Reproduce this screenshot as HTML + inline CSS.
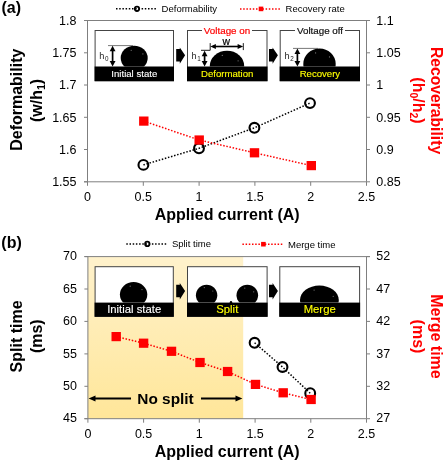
<!DOCTYPE html><html><head><meta charset="utf-8"><style>html,body{margin:0;padding:0;background:#fff;width:445px;height:461px;overflow:hidden}svg{display:block;filter:blur(0.3px)}text{font-family:"Liberation Sans", sans-serif}</style></head><body>
<svg width="445" height="461" viewBox="0 0 445 461">
<defs><linearGradient id="shade" x1="0" y1="0" x2="0" y2="1"><stop offset="0" stop-color="#fff2cc"/><stop offset="1" stop-color="#ffe699"/></linearGradient></defs>
<rect width="445" height="461" fill="#fff"/>
<g stroke="#7f7f7f" stroke-width="1" fill="none">
<path d="M84.0 20.5H370.0M87.5 20.5V181.8M366.5 20.5V181.8M84.0 181.8H366.5"/>
<path d="M84.0 20.5H87.5M366.5 20.5H370.0"/>
<path d="M87.5 181.8V185.8"/>
<path d="M84.0 52.8H87.5M366.5 52.8H370.0"/>
<path d="M143.3 181.8V185.8"/>
<path d="M84.0 85.0H87.5M366.5 85.0H370.0"/>
<path d="M199.1 181.8V185.8"/>
<path d="M84.0 117.3H87.5M366.5 117.3H370.0"/>
<path d="M254.9 181.8V185.8"/>
<path d="M84.0 149.5H87.5M366.5 149.5H370.0"/>
<path d="M310.7 181.8V185.8"/>
<path d="M84.0 181.8H87.5M366.5 181.8H370.0"/>
<path d="M366.5 181.8V185.8"/>
</g>
<g font-size="12.5" fill="#000">
<text x="76.5" y="24.8" text-anchor="end">1.8</text>
<text x="76.5" y="57.1" text-anchor="end">1.75</text>
<text x="76.5" y="89.3" text-anchor="end">1.7</text>
<text x="76.5" y="121.6" text-anchor="end">1.65</text>
<text x="76.5" y="153.8" text-anchor="end">1.6</text>
<text x="76.5" y="186.1" text-anchor="end">1.55</text>
<text x="376.3" y="24.8">1.1</text>
<text x="376.3" y="57.1">1.05</text>
<text x="376.3" y="89.3">1</text>
<text x="376.3" y="121.6">0.95</text>
<text x="376.3" y="153.8">0.9</text>
<text x="376.3" y="186.1">0.85</text>
<text x="87.5" y="201.3" text-anchor="middle">0</text>
<text x="143.3" y="201.3" text-anchor="middle">0.5</text>
<text x="199.1" y="201.3" text-anchor="middle">1</text>
<text x="254.9" y="201.3" text-anchor="middle">1.5</text>
<text x="310.7" y="201.3" text-anchor="middle">2</text>
<text x="366.5" y="201.3" text-anchor="middle">2.5</text>
</g>
<text x="1.5" y="12.6" font-size="16" font-weight="bold">(a)</text>
<line x1="116.0" y1="8.8" x2="156.0" y2="8.8" stroke="#000" stroke-width="1.5" stroke-dasharray="1.5 1.7"/>
<circle cx="137.0" cy="8.8" r="2.2" fill="none" stroke="#000" stroke-width="1.8"/>
<text x="161.6" y="12.2" font-size="9.5" fill="#000">Deformability</text>
<line x1="240.0" y1="8.9" x2="280.0" y2="8.9" stroke="#f00" stroke-width="1.5" stroke-dasharray="1.5 1.7"/>
<rect x="258.7" y="6.6" width="4.6" height="4.6" fill="#f00"/>
<text x="285.6" y="12.3" font-size="9.5" fill="#000">Recovery rate</text>
<text transform="translate(22.1,99.7) rotate(-90)" font-size="16" font-weight="bold" text-anchor="middle">Deformability</text>
<text transform="translate(41.5,100.5) rotate(-90)" font-size="16" font-weight="bold" text-anchor="middle">(w/h<tspan font-size="10.5" dy="3">1</tspan><tspan dy="-3">)</tspan></text>
<text transform="translate(431.3,100.5) rotate(90)" font-size="15.7" font-weight="bold" fill="#f00" text-anchor="middle">Recoverability</text>
<text transform="translate(412.5,100.5) rotate(90)" font-size="16" font-weight="bold" fill="#f00" text-anchor="middle">(h<tspan font-size="10.5" dy="3">0</tspan><tspan dy="-3">/h</tspan><tspan font-size="10.5" dy="3">2</tspan><tspan dy="-3">)</tspan></text>
<text x="227.2" y="220.2" font-size="16" font-weight="bold" text-anchor="middle">Applied current (A)</text>
<rect x="95.1" y="30.5" width="78.4" height="50.2" fill="#fff" stroke="#444" stroke-width="1"/>
<rect x="94.6" y="66.5" width="79.4" height="14.7" fill="#000"/>
<text x="134.3" y="77.1" font-size="9.6" fill="#fff" stroke="#fff" stroke-width="0.12" text-anchor="middle">Initial state</text>
<rect x="206" y="26" width="42" height="8" fill="#fff"/>
<rect x="187.5" y="30.5" width="79.5" height="50.2" fill="#fff" stroke="#444" stroke-width="1"/>
<rect x="187.0" y="66.5" width="80.5" height="14.7" fill="#000"/>
<text x="227.2" y="77.1" font-size="9.6" fill="#ff0" stroke="#ff0" stroke-width="0.12" text-anchor="middle">Deformation</text>
<rect x="280.2" y="30.5" width="79.3" height="50.2" fill="#fff" stroke="#444" stroke-width="1"/>
<rect x="279.7" y="66.5" width="80.3" height="14.7" fill="#000"/>
<text x="319.9" y="77.1" font-size="9.6" fill="#ff0" stroke="#ff0" stroke-width="0.12" text-anchor="middle">Recovery</text>
<rect x="202" y="27" width="50" height="7" fill="#fff"/>
<text x="227" y="34" font-size="9.8" fill="#f00" stroke="#f00" stroke-width="0.2" text-anchor="middle">Voltage on</text>
<rect x="295" y="27" width="50" height="7" fill="#fff"/>
<text x="320" y="34" font-size="9.8" fill="#111" stroke="#111" stroke-width="0.2" text-anchor="middle">Voltage off</text>
<polygon points="176.2,49.1 179.8,49.1 179.8,47.4 185.1,55.3 179.8,63.7 179.8,61.5 176.2,61.5" fill="#000"/>
<polygon points="269.0,49.1 272.6,49.1 272.6,47.4 277.9,55.3 272.6,63.7 272.6,61.5 269.0,61.5" fill="#000"/>
<clipPath id="c1"><rect x="95" y="30" width="270" height="36.5"/></clipPath>
<g clip-path="url(#c1)"><ellipse cx="134.2" cy="58.1" rx="13.5" ry="12.4" fill="#000"/><ellipse cx="227" cy="66" rx="17.2" ry="15.3" fill="#000"/><ellipse cx="319.5" cy="64" rx="16.2" ry="15.5" fill="#000"/></g>
<line x1="108" y1="45.6" x2="133" y2="45.6" stroke="#555" stroke-width="0.8"/>
<line x1="112.6" y1="48.8" x2="112.6" y2="63.4" stroke="#000" stroke-width="1.7"/>
<polygon points="112.6,45.8 109.7,51.3 115.5,51.3" fill="#000"/>
<polygon points="112.6,66.4 109.7,60.9 115.5,60.9" fill="#000"/>
<text x="99.3" y="58.8" font-size="9.2" fill="#222">h<tspan font-size="6.3" dx="0.5" dy="2.6">0</tspan></text>
<path d="M201 50.3H210.2V43.1M243.3 43.1V50.1" fill="none" stroke="#000" stroke-width="0.9"/>
<line x1="213.3" y1="46.5" x2="240.2" y2="46.5" stroke="#000" stroke-width="1.6"/>
<polygon points="210.3,46.5 215.9,44.0 215.9,49.0" fill="#000"/>
<polygon points="243.2,46.5 237.6,44.0 237.6,49.0" fill="#000"/>
<text x="226.2" y="44.9" font-size="10.4" stroke="#000" stroke-width="0.2" text-anchor="middle">w</text>
<line x1="204.6" y1="53.8" x2="204.6" y2="63.4" stroke="#000" stroke-width="1.7"/>
<polygon points="204.6,50.8 201.7,56.3 207.5,56.3" fill="#000"/>
<polygon points="204.6,66.4 201.7,60.9 207.5,60.9" fill="#000"/>
<text x="191.5" y="58.8" font-size="9.2" fill="#222">h<tspan font-size="6.3" dx="0.5" dy="2.6">1</tspan></text>
<line x1="293" y1="48.4" x2="318" y2="48.4" stroke="#555" stroke-width="0.8"/>
<line x1="297.4" y1="51.6" x2="297.4" y2="63.4" stroke="#000" stroke-width="1.7"/>
<polygon points="297.4,48.6 294.5,54.1 300.3,54.1" fill="#000"/>
<polygon points="297.4,66.4 294.5,60.9 300.3,60.9" fill="#000"/>
<text x="284.5" y="58.8" font-size="9.2" fill="#222">h<tspan font-size="6.3" dx="0.5" dy="2.6">2</tspan></text>
<path d="M143.4 164.9 L199.0 148.3 L254.4 127.8 L310.0 103.1" fill="none" stroke="#000" stroke-width="1.5" stroke-dasharray="1.5 1.7"/>
<circle cx="143.4" cy="164.9" r="4.9" fill="none" stroke="#000" stroke-width="2.1"/>
<circle cx="199.0" cy="148.3" r="4.9" fill="none" stroke="#000" stroke-width="2.1"/>
<circle cx="254.4" cy="127.8" r="4.9" fill="none" stroke="#000" stroke-width="2.1"/>
<circle cx="310.0" cy="103.1" r="4.9" fill="none" stroke="#000" stroke-width="2.1"/>
<path d="M143.8 121.1 L199.2 140.0 L254.5 152.8 L311.3 165.6" fill="none" stroke="#f00" stroke-width="1.5" stroke-dasharray="1.5 1.7"/>
<rect x="139.1" y="116.5" width="9.4" height="9.2" fill="#f00"/>
<rect x="194.5" y="135.4" width="9.4" height="9.2" fill="#f00"/>
<rect x="249.8" y="148.2" width="9.4" height="9.2" fill="#f00"/>
<rect x="306.6" y="161.0" width="9.4" height="9.2" fill="#f00"/>
<rect x="87.9" y="256.6" width="155.3" height="162.1" fill="url(#shade)"/>
<g stroke="#7f7f7f" stroke-width="1" fill="none">
<path d="M84.4 256.6H370.0M87.9 256.6V418.7M366.5 256.6V418.7M84.4 418.7H366.5"/>
<path d="M84.4 256.6H87.9M366.5 256.6H370.0"/>
<path d="M87.9 418.7V422.7"/>
<path d="M84.4 289.0H87.9M366.5 289.0H370.0"/>
<path d="M143.6 418.7V422.7"/>
<path d="M84.4 321.4H87.9M366.5 321.4H370.0"/>
<path d="M199.3 418.7V422.7"/>
<path d="M84.4 353.9H87.9M366.5 353.9H370.0"/>
<path d="M255.1 418.7V422.7"/>
<path d="M84.4 386.3H87.9M366.5 386.3H370.0"/>
<path d="M310.8 418.7V422.7"/>
<path d="M84.4 418.7H87.9M366.5 418.7H370.0"/>
<path d="M366.5 418.7V422.7"/>
</g>
<g font-size="12.5" fill="#000">
<text x="76.9" y="260.2" text-anchor="end">70</text>
<text x="76.9" y="292.6" text-anchor="end">65</text>
<text x="76.9" y="325.0" text-anchor="end">60</text>
<text x="76.9" y="357.5" text-anchor="end">55</text>
<text x="76.9" y="389.9" text-anchor="end">50</text>
<text x="76.9" y="422.3" text-anchor="end">45</text>
<text x="376.3" y="260.2">52</text>
<text x="376.3" y="292.6">47</text>
<text x="376.3" y="325.0">42</text>
<text x="376.3" y="357.5">37</text>
<text x="376.3" y="389.9">32</text>
<text x="376.3" y="422.3">27</text>
<text x="87.9" y="438.2" text-anchor="middle">0</text>
<text x="143.6" y="438.2" text-anchor="middle">0.5</text>
<text x="199.3" y="438.2" text-anchor="middle">1</text>
<text x="255.1" y="438.2" text-anchor="middle">1.5</text>
<text x="310.8" y="438.2" text-anchor="middle">2</text>
<text x="366.5" y="438.2" text-anchor="middle">2.5</text>
</g>
<text x="1.3" y="248" font-size="16" font-weight="bold">(b)</text>
<line x1="126.3" y1="243.9" x2="166.3" y2="243.9" stroke="#000" stroke-width="1.5" stroke-dasharray="1.5 1.7"/>
<circle cx="147.3" cy="243.9" r="2.2" fill="none" stroke="#000" stroke-width="1.8"/>
<text x="171.9" y="247.3" font-size="9.5" fill="#000">Split time</text>
<line x1="242.4" y1="244.2" x2="282.4" y2="244.2" stroke="#f00" stroke-width="1.5" stroke-dasharray="1.5 1.7"/>
<rect x="261.1" y="241.9" width="4.6" height="4.6" fill="#f00"/>
<text x="288.0" y="247.6" font-size="9.5" fill="#000">Merge time</text>
<text transform="translate(21.8,336.4) rotate(-90)" font-size="16" font-weight="bold" text-anchor="middle">Split time</text>
<text transform="translate(41.5,336.2) rotate(-90)" font-size="16" font-weight="bold" text-anchor="middle">(ms)</text>
<text transform="translate(431,336.5) rotate(90)" font-size="16" font-weight="bold" fill="#f00" text-anchor="middle">Merge time</text>
<text transform="translate(412.5,336.5) rotate(90)" font-size="16" font-weight="bold" fill="#f00" text-anchor="middle">(ms)</text>
<text x="227.2" y="457.4" font-size="16" font-weight="bold" text-anchor="middle">Applied current (A)</text>
<rect x="95.1" y="266.7" width="78.2" height="49.6" fill="#fff" stroke="#444" stroke-width="1"/>
<rect x="94.6" y="302.6" width="79.2" height="14.2" fill="#000"/>
<text x="134.2" y="312.7" font-size="11.3" fill="#fff" stroke="#fff" stroke-width="0.12" text-anchor="middle">Initial state</text>
<rect x="187.5" y="266.7" width="79.6" height="49.6" fill="#fff" stroke="#444" stroke-width="1"/>
<rect x="187.0" y="302.6" width="80.6" height="14.2" fill="#000"/>
<text x="227.3" y="312.7" font-size="11.3" fill="#ff0" stroke="#ff0" stroke-width="0.12" text-anchor="middle">Split</text>
<rect x="279.8" y="266.7" width="79.8" height="49.6" fill="#fff" stroke="#444" stroke-width="1"/>
<rect x="279.3" y="302.6" width="80.8" height="14.2" fill="#000"/>
<text x="319.7" y="312.7" font-size="11.3" fill="#ff0" stroke="#ff0" stroke-width="0.12" text-anchor="middle">Merge</text>
<polygon points="176.2,284.8 179.8,284.8 179.8,283.1 185.1,291.0 179.8,299.4 179.8,297.2 176.2,297.2" fill="#000"/>
<polygon points="269.0,284.8 272.6,284.8 272.6,283.1 277.9,291.0 272.6,299.4 272.6,297.2 269.0,297.2" fill="#000"/>
<clipPath id="c2"><rect x="95" y="266" width="80" height="36.6"/></clipPath>
<ellipse cx="133.6" cy="294.5" rx="13.7" ry="12.5" fill="#000" clip-path="url(#c2)"/>
<clipPath id="c3"><rect x="187" y="266" width="175" height="36.6"/></clipPath>
<g clip-path="url(#c3)"><ellipse cx="206.6" cy="295.3" rx="10.7" ry="10.6" fill="#000"/><ellipse cx="247.3" cy="295.3" rx="10.8" ry="10.6" fill="#000"/><ellipse cx="319.4" cy="300" rx="19.4" ry="14.4" fill="#000"/></g>
<line x1="93" y1="398.5" x2="131" y2="398.5" stroke="#000" stroke-width="1.8"/>
<polygon points="88.6,398.5 95.5,395.6 95.5,401.4" fill="#000"/>
<line x1="201" y1="398.5" x2="237" y2="398.5" stroke="#000" stroke-width="1.8"/>
<polygon points="242.4,398.5 235.5,395.6 235.5,401.4" fill="#000"/>
<text x="165.5" y="403.9" font-size="15.4" font-weight="bold" text-anchor="middle">No split</text>
<circle cx="131.2" cy="50.3" r="0.6" fill="#777"/>
<circle cx="142.9" cy="53.9" r="0.6" fill="#777"/>
<circle cx="222.3" cy="55.4" r="0.6" fill="#777"/>
<circle cx="238.1" cy="60.8" r="0.6" fill="#777"/>
<circle cx="315.6" cy="52.9" r="0.6" fill="#777"/>
<circle cx="329.5" cy="56.9" r="0.6" fill="#777"/>
<circle cx="130.2" cy="286.2" r="0.6" fill="#777"/>
<circle cx="142.0" cy="289.6" r="0.6" fill="#777"/>
<circle cx="204.3" cy="287.6" r="0.6" fill="#777"/>
<circle cx="212.8" cy="291.0" r="0.6" fill="#777"/>
<circle cx="244.8" cy="288.1" r="0.6" fill="#777"/>
<circle cx="253.7" cy="291.8" r="0.6" fill="#777"/>
<circle cx="314.1" cy="290.1" r="0.6" fill="#777"/>
<circle cx="333.2" cy="296.3" r="0.6" fill="#777"/>
<circle cx="231" cy="302.2" r="1.2" fill="#000"/>
<path d="M254.6 342.8 L282.5 367.0 L310.2 393.2" fill="none" stroke="#000" stroke-width="1.5" stroke-dasharray="1.5 1.7"/>
<circle cx="254.6" cy="342.8" r="4.9" fill="none" stroke="#000" stroke-width="2.1"/>
<circle cx="282.5" cy="367.0" r="4.9" fill="none" stroke="#000" stroke-width="2.1"/>
<circle cx="310.2" cy="393.2" r="4.9" fill="none" stroke="#000" stroke-width="2.1"/>
<path d="M116.2 336.6 L143.6 343.2 L171.5 351.3 L200.0 362.5 L227.6 371.5 L255.5 384.4 L283.2 392.8 L311.1 399.5" fill="none" stroke="#f00" stroke-width="1.5" stroke-dasharray="1.5 1.7"/>
<rect x="111.5" y="332.0" width="9.4" height="9.2" fill="#f00"/>
<rect x="138.9" y="338.6" width="9.4" height="9.2" fill="#f00"/>
<rect x="166.8" y="346.7" width="9.4" height="9.2" fill="#f00"/>
<rect x="195.3" y="357.9" width="9.4" height="9.2" fill="#f00"/>
<rect x="222.9" y="366.9" width="9.4" height="9.2" fill="#f00"/>
<rect x="250.8" y="379.8" width="9.4" height="9.2" fill="#f00"/>
<rect x="278.5" y="388.2" width="9.4" height="9.2" fill="#f00"/>
<rect x="306.4" y="394.9" width="9.4" height="9.2" fill="#f00"/>
</svg></body></html>
